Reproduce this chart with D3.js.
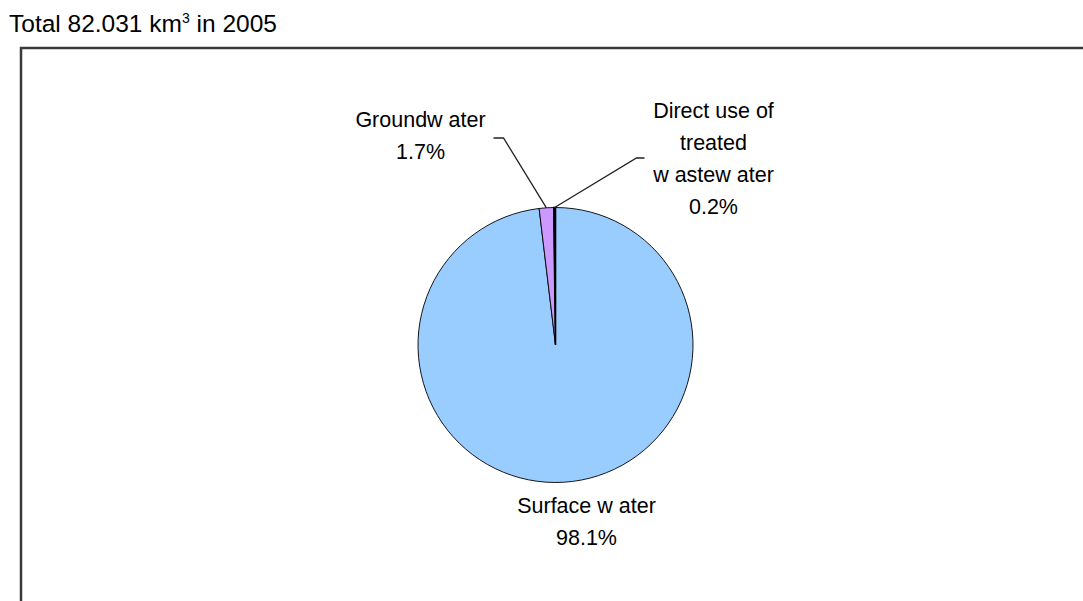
<!DOCTYPE html>
<html>
<head>
<meta charset="utf-8">
<script src="https://cdn.jsdelivr.net/npm/d3@7"></script>
<style>
  body { margin: 0; background: #fff; }
  text { font-family: "Liberation Sans", Arial, sans-serif; fill: #000; }
</style>
</head>
<body>
<div id="chart"></div>
<script>
// Données
const categories = ["Surface water", "Groundwater", "Direct use of treated wastewater"];
const shares = [98.1, 1.7, 0.2];
const labelLines = [
    ["Surface w ater", "98.1%"],
    ["Groundw ater", "1.7%"],
    ["Direct use of", "treated", "w astew ater", "0.2%"]
];
const colors = ["#99ccff", "#cc99ff", "#000000"];

const width = 1083, height = 601;
const cx = 555.5, cy = 345, r = 137.5;

const svg = d3.select("#chart").append("svg")
    .attr("width", width)
    .attr("height", height);

// Titre
const title = svg.append("text")
    .attr("x", 9)
    .attr("y", 32)
    .style("font-size", "24.5px");
title.append("tspan").text("Total 82.031 km");
title.append("tspan").text("3").attr("dy", -9).style("font-size", "14px");
title.append("tspan").text(" in 2005").attr("dy", 9);

// Cadre du graphique (coupé à droite et en bas)
svg.append("path")
    .attr("d", `M21,${height + 5}V48H${width + 5}`)
    .attr("fill", "none")
    .attr("stroke", "#3a3a3a")
    .attr("stroke-width", 2.5);

const pie = d3.pie().sort(null).value(d => d);
const arcs = pie(shares);
const arc = d3.arc().innerRadius(0).outerRadius(r);

const g = svg.append("g").attr("transform", `translate(${cx},${cy})`);

g.selectAll("path.slice")
    .data(arcs)
    .enter().append("path")
    .attr("class", "slice")
    .attr("d", arc)
    .attr("fill", (d, i) => colors[i])
    .attr("stroke", "#000")
    .attr("stroke-width", (d, i) => i === 2 ? 1.6 : 0.9);

// Positions des étiquettes (relatives au centre)
const labelPos = [
    { x: 31, y: 168, leader: null },
    { x: -135, y: -218, leader: { elbow: [-52, -207], tick: [-62, -207] } },
    { x: 158, y: -227, leader: { elbow: [81, -187], tick: [89, -187] } }
];

const lineH = 32;

arcs.forEach((d, i) => {
    const p = labelPos[i];
    if (p.leader) {
        const mid = (d.startAngle + d.endAngle) / 2;
        const ex = Math.sin(mid) * r, ey = -Math.cos(mid) * r;
        g.append("polyline")
            .attr("points", [p.leader.tick, p.leader.elbow, [ex, ey]].map(q => q.join(",")).join(" "))
            .attr("fill", "none")
            .attr("stroke", "#222")
            .attr("stroke-width", 1.3);
    }
    const t = g.append("text")
        .attr("text-anchor", "middle")
        .style("font-size", "21.5px");
    labelLines[i].forEach((line, j) => {
        t.append("tspan")
            .attr("x", p.x)
            .attr("y", p.y + j * lineH)
            .text(line);
    });
});
</script>
</body>
</html>
